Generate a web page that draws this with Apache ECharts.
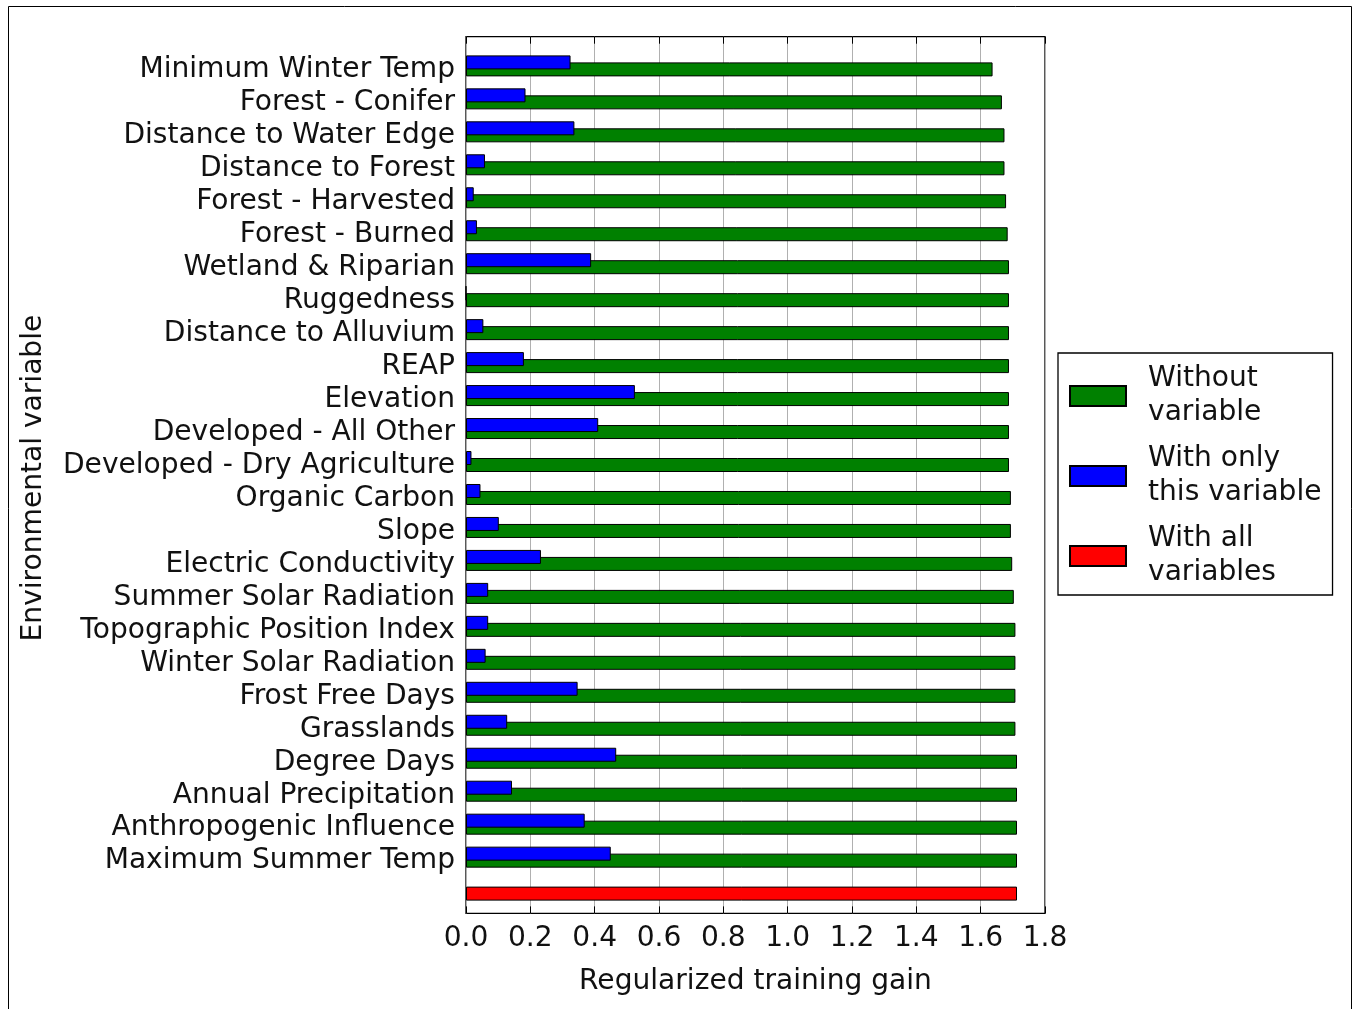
<!DOCTYPE html>
<html>
<head>
<meta charset="utf-8">
<script src="https://cdn.jsdelivr.net/npm/echarts@6/dist/echarts.min.js"></script>
<style>
  html, body { margin: 0; padding: 0; background: #fff; }
  #chart { width: 1354px; height: 1009px; }
</style>
</head>
<body>
<div id="chart"></div>
<script>
// ---- data ----
const categories = [
  'Minimum Winter Temp', 'Forest - Conifer', 'Distance to Water Edge', 'Distance to Forest',
  'Forest - Harvested', 'Forest - Burned', 'Wetland & Riparian', 'Ruggedness',
  'Distance to Alluvium', 'REAP', 'Elevation', 'Developed - All Other',
  'Developed - Dry Agriculture', 'Organic Carbon', 'Slope', 'Electric Conductivity',
  'Summer Solar Radiation', 'Topographic Position Index', 'Winter Solar Radiation',
  'Frost Free Days', 'Grasslands', 'Degree Days', 'Annual Precipitation',
  'Anthropogenic Influence', 'Maximum Summer Temp', ''
];
const withoutVariable = [
  1.637, 1.666, 1.674, 1.674, 1.679, 1.684, 1.688, 1.688, 1.688, 1.688, 1.688, 1.688, 1.688,
  1.694, 1.694, 1.698, 1.703, 1.708, 1.708, 1.708, 1.708, 1.713, 1.713, 1.713, 1.713, '-'
];
const withOnlyVariable = [
  0.325, 0.185, 0.337, 0.059, 0.024, 0.034, 0.389, 0, 0.054, 0.180, 0.525, 0.411, 0.017,
  0.045, 0.102, 0.233, 0.069, 0.069, 0.061, 0.347, 0.128, 0.467, 0.143, 0.369, 0.450, '-'
];
const withAllVariables = [
  '-', '-', '-', '-', '-', '-', '-', '-', '-', '-', '-', '-', '-',
  '-', '-', '-', '-', '-', '-', '-', '-', '-', '-', '-', '-', 1.713
];
const seriesNames = ['Without variable', 'With only this variable', 'With all variables'];
const legendLabels = ['Without\nvariable', 'With only\nthis variable', 'With all\nvariables'];
const xMin = 0, xMax = 1.8, xStep = 0.2;

// ---- chart ----
const FONT = 'DejaVu Sans';
const TXT = '#111';
const FS = 28.1;
const chart = echarts.init(document.getElementById('chart'), null, { renderer: 'canvas' });

const barStyle = (c) => ({ color: c, borderColor: '#000', borderWidth: 1 });

chart.setOption({
  animation: false,
  backgroundColor: '#fff',
  textStyle: { fontFamily: FONT },
  graphic: [{
    type: 'rect', silent: true, z: 100,
    shape: { x: 8.5, y: 6.5, width: 1343, height: 1020 },
    style: { fill: 'none', stroke: '#000', lineWidth: 1 }
  }],
  legend: {
    data: seriesNames,
    orient: 'vertical',
    left: 1058, top: 353,
    padding: [9, 11, 5, 11],
    itemWidth: 56, itemHeight: 20, itemGap: 12,
    icon: 'rect',
    borderColor: '#000', borderWidth: 1.3,
    formatter: (name) => legendLabels[seriesNames.indexOf(name)],
    textStyle: { fontFamily: FONT, fontSize: FS, lineHeight: 34, color: TXT, padding: [0, 0, 0, 17] }
  },
  grid: [
    { left: 466, right: 309, top: 36.7, bottom: 95.6, show: true, borderColor: '#000', borderWidth: 1.3, backgroundColor: 'transparent' },
    { left: 466, right: 309, top: 49.4, bottom: 102.4 }
  ],
  xAxis: [
    {
      gridIndex: 0, type: 'value', min: xMin, max: xMax, interval: xStep, position: 'bottom',
      axisLine: { show: false },
      axisTick: { show: true, inside: true, length: 7, lineStyle: { color: '#000', width: 1 } },
      axisLabel: { fontFamily: FONT, fontSize: FS, color: TXT, margin: 11, formatter: (v) => v.toFixed(1) },
      splitLine: { show: true, lineStyle: { color: '#b0b0b0', width: 1 } },
      name: 'Regularized training gain', nameLocation: 'middle', nameGap: 54,
      nameTextStyle: { fontFamily: FONT, fontSize: FS, color: TXT }
    },
    {
      gridIndex: 0, type: 'value', min: xMin, max: xMax, interval: xStep, position: 'top',
      axisLine: { show: false },
      axisTick: { show: true, inside: true, length: 7, lineStyle: { color: '#000', width: 1 } },
      axisLabel: { show: false },
      splitLine: { show: false }
    },
    {
      gridIndex: 1, type: 'value', min: xMin, max: xMax, show: false
    }
  ],
  yAxis: [
    {
      gridIndex: 0, type: 'value', min: 0, max: 1,
      axisLine: { show: false }, axisTick: { show: false }, axisLabel: { show: false }, splitLine: { show: false },
      name: 'Environmental variable', nameLocation: 'middle', nameGap: 418, nameRotate: 90,
      nameTextStyle: { fontFamily: FONT, fontSize: FS, color: TXT, padding: [0, 6, 0, 0] }
    },
    {
      gridIndex: 1, type: 'category', data: categories, inverse: true,
      axisLine: { show: false }, axisTick: { show: false }, splitLine: { show: false },
      axisLabel: { fontFamily: FONT, fontSize: FS, color: TXT, margin: 11, interval: 0,
                   verticalAlign: 'top', lineHeight: 8 }
    }
  ],
  series: [
    {
      name: seriesNames[1], type: 'bar', xAxisIndex: 2, yAxisIndex: 1, z: 3,
      data: withOnlyVariable, barWidth: 14, barGap: '-50%',
      itemStyle: barStyle('#0000ff')
    },
    {
      name: seriesNames[0], type: 'bar', xAxisIndex: 2, yAxisIndex: 1, z: 2, stack: 'g',
      data: withoutVariable, barWidth: 14, barGap: '-50%',
      itemStyle: barStyle('#008000')
    },
    {
      name: seriesNames[2], type: 'bar', xAxisIndex: 2, yAxisIndex: 1, z: 2, stack: 'g',
      data: withAllVariables, barWidth: 14, barGap: '-50%',
      itemStyle: barStyle('#ff0000')
    }
  ]
});
</script>
</body>
</html>
